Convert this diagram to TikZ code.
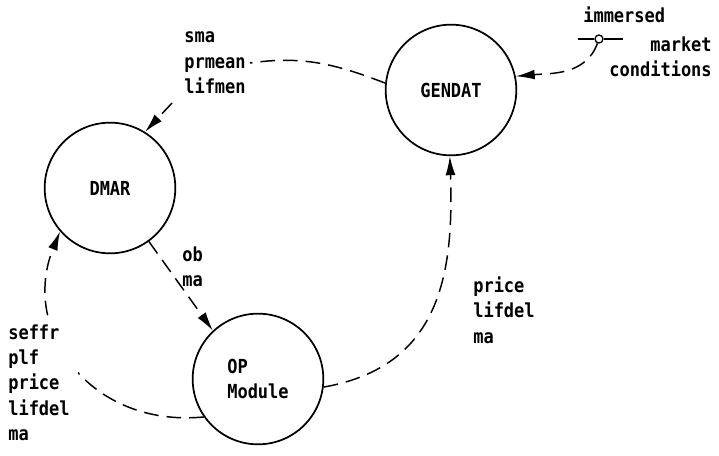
\documentclass[tikz,border=0pt]{standalone}
\usepackage{fontspec}
\newfontfamily\plotfont[FakeStretch=0.88]{DejaVu Sans Mono}
\usepackage{tikz}
\usetikzlibrary{arrows.meta}
\tikzset{>={Latex[width=2.6mm,length=5mm]}}

\begin{document}
\begin{tikzpicture}[
    x = 0.75pt, y = 0.75pt,
    font = \plotfont\bfseries\fontsize{14.5}{19}\selectfont,
    proc/.style = {draw, circle, line width=1.3pt, minimum size=98pt,
        inner sep=0pt},
    flow/.style = {line width=1.1pt, dash pattern=on 11pt off 6pt},
    lbl/.style = {align=left, inner sep=0pt}
  ]
  \useasboundingbox (0,0) rectangle (719,455);

  \node[proc] (GENDAT) at (451,365) {GENDAT};
  \node[proc] (DMAR) at (110,267) {DMAR};
  \node[proc, align=left] (OP) at (258,76) {OP\\Module};

  % market input
  \node[draw, circle, line width=1pt, minimum size=6pt, inner sep=0pt] (mkt) at (599,416) {};
  \coordinate (mktL) at (578,416);
  \coordinate (mktR) at (623,416);
  \draw[line width=1pt] (mktL) -- (mkt.west) (mkt.east) -- (mktR);
  \node[lbl, anchor=west] (immersed) at (583,440) {immersed};
  \node[lbl, align=right, anchor=east] (mktcond) at (712,398) {market\\conditions};

  % flow labels
  \node[lbl, anchor=west, inner sep=3pt] (lblGen) at (180,392) {sma\\prmean\\lifmen};
  \node[lbl, anchor=west] (lblOb) at (182,188) {ob\\ma};
  \node[lbl, anchor=west] (lblPr) at (473,145) {price\\lifdel\\ma};
  \coordinate (gapGen) at (172,352);

  \draw[flow, ->] (mkt.250) to[out=250, in=5] (GENDAT.12);
  \draw[flow] (GENDAT.174) to[out=159, in=8] (lblGen.east);
  \draw[flow, ->] (gapGen) -- (DMAR.58);
  \draw[flow, ->] (DMAR.-54) -- (OP.133);
  \draw[flow, ->] (OP.-7) to[out=10, in=-88, looseness=1.15] (GENDAT.-91);
  \draw[flow, ->] (OP.215) .. controls (90,27) and (20,125) .. (DMAR.221);

  \node[lbl, anchor=west, fill=white, inner sep=6pt] (lblOp) at (0,72.5) {seffr\\plf\\price\\lifdel\\ma};
\end{tikzpicture}
\end{document}
